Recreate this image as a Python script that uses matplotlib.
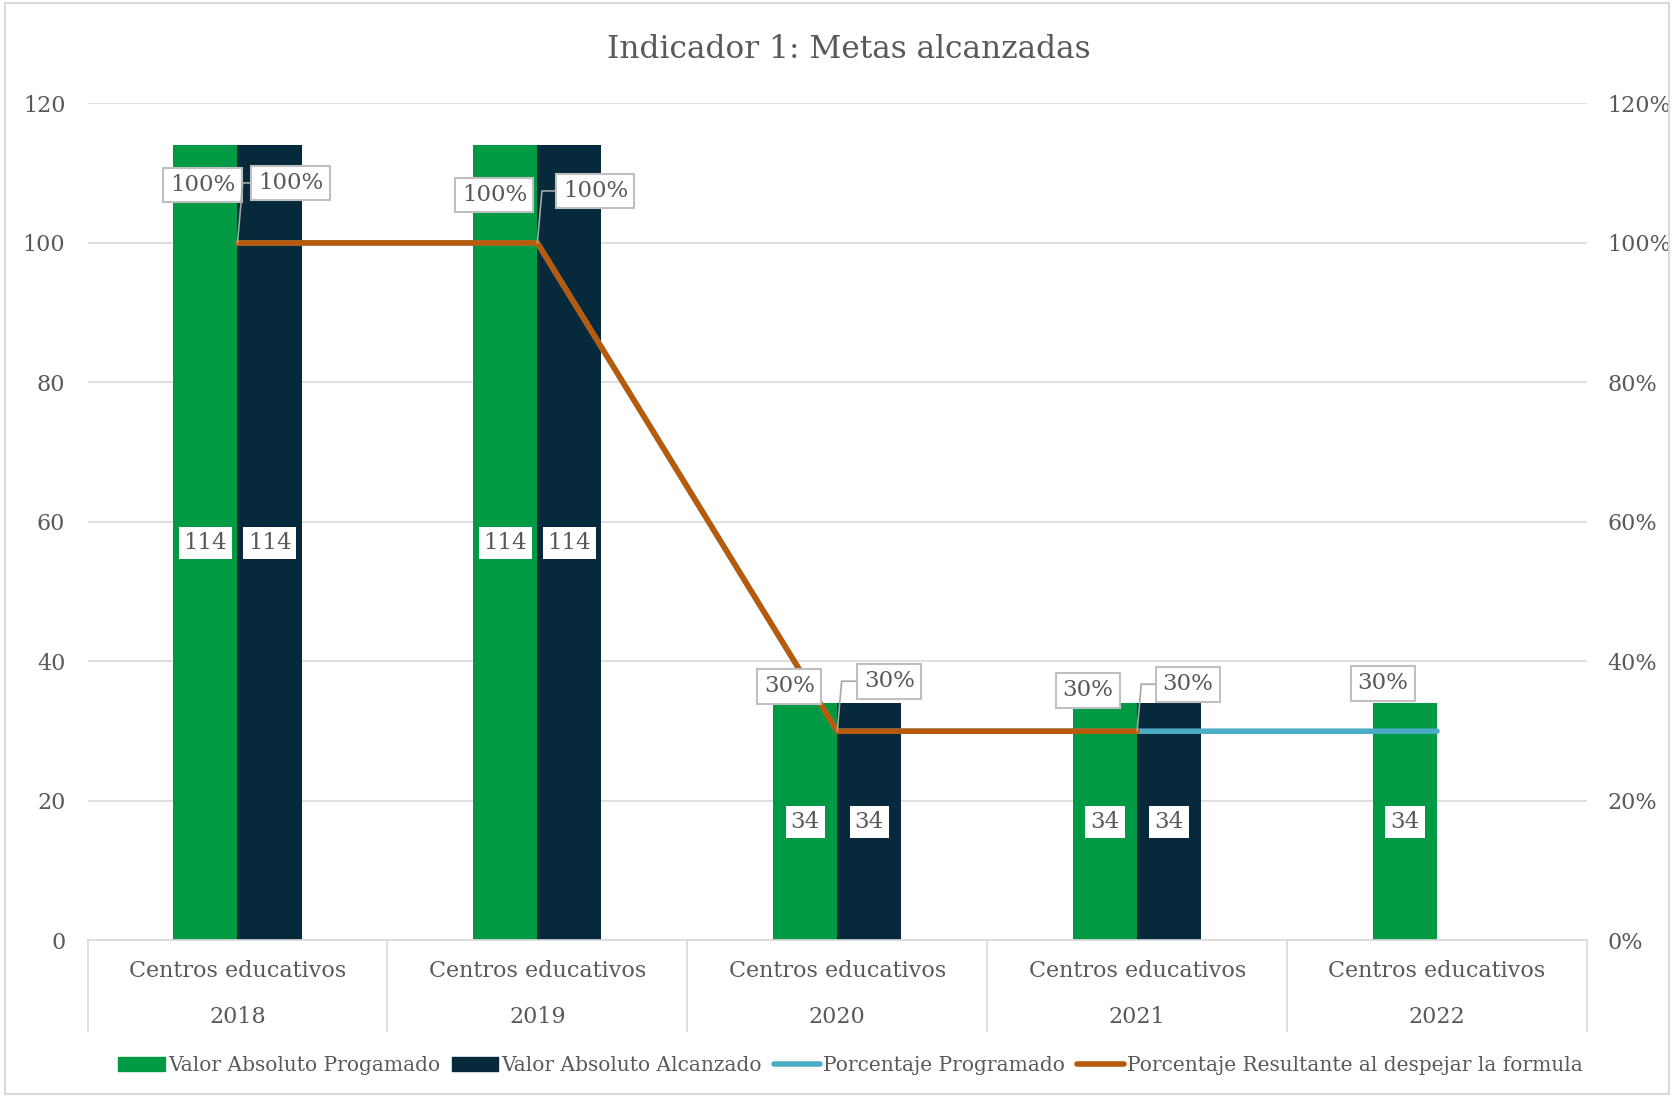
import matplotlib
matplotlib.use("Agg")
import matplotlib.pyplot as plt
import numpy as np
from matplotlib.patches import Rectangle
from matplotlib.lines import Line2D
from matplotlib.patches import Patch

# ---- data ----
categories = ["Centros educativos", "Centros educativos", "Centros educativos",
              "Centros educativos", "Centros educativos"]
years = ["2018", "2019", "2020", "2021", "2022"]
valor_programado = [114, 114, 34, 34, 34]
valor_alcanzado = [114, 114, 34, 34, np.nan]
pct_programado = [1.00, 1.00, 0.30, 0.30, 0.30]
pct_resultante = [1.00, 1.00, 0.30, 0.30, np.nan]

# label offsets in pixels (style only)
off_prog = [(-35, 58), (-43, 48), (-48, 45), (-49, 41), (-54, 48)]
off_res = [(53, 60), (58, 52), (52, 50), (51, 47), None]

C_GREEN = "#009944"
C_NAVY = "#06293C"
C_BLUE = "#4BACC6"
C_ORANGE = "#B85A0A"
C_TEXT = "#595959"
C_GRID = "#D9D9D9"
FONT = "DejaVu Serif"

plt.rcParams["font.family"] = FONT
fig = plt.figure(figsize=(16.74, 10.97), dpi=100)
ax = fig.add_axes([0.0523, 0.1427, 0.8957, 0.763])
ax2 = ax.twinx()

x = np.arange(len(years))
w = 0.2135
ax.bar(x - w / 2, valor_programado, width=w, color=C_GREEN, zorder=2)
ax.bar(x + w / 2, valor_alcanzado, width=w, color=C_NAVY, zorder=2)

ax.set_xlim(-0.5, len(years) - 0.5)
ax.set_ylim(0, 120)
ax.set_yticks(np.arange(0, 121, 20))
ax.grid(axis="y", color=C_GRID, lw=1.2, zorder=0)
ax.set_axisbelow(True)
for s in ["top", "left", "right"]:
    ax.spines[s].set_visible(False)
    ax2.spines[s].set_visible(False)
ax.spines["bottom"].set_color(C_GRID)
ax.spines["bottom"].set_linewidth(1.2)
ax2.spines["bottom"].set_visible(False)
ax.tick_params(axis="y", length=0, labelsize=16, labelcolor=C_TEXT, pad=16)
ax.set_xticks([])

lbl_fs = 16.5
# bar value labels
for xi, v in zip(x, valor_programado):
    if not np.isnan(v):
        ax.text(xi - w / 2, v / 2, f"{v:.0f}", ha="center", va="center", fontsize=lbl_fs,
                color=C_TEXT, zorder=5,
                bbox=dict(boxstyle="square,pad=0.22", fc="white", ec="none"))
for xi, v in zip(x, valor_alcanzado):
    if not np.isnan(v):
        ax.text(xi + w / 2, v / 2, f"{v:.0f}", ha="center", va="center", fontsize=lbl_fs,
                color=C_TEXT, zorder=5,
                bbox=dict(boxstyle="square,pad=0.22", fc="white", ec="none"))

# lines
ax2.plot(x, pct_programado, color=C_BLUE, lw=4, solid_capstyle="round", zorder=3)
ax2.plot(x, pct_resultante, color=C_ORANGE, lw=4, solid_capstyle="round", zorder=4)
ax2.set_ylim(0, 1.2)
ax2.set_yticks(np.arange(0, 1.21, 0.2))
ax2.set_yticklabels([f"{int(round(t*100))}%" for t in np.arange(0, 1.21, 0.2)])
ax2.tick_params(axis="y", length=0, labelsize=16, labelcolor=C_TEXT, pad=15)

box = dict(boxstyle="square,pad=0.28", fc="white", ec="#BFBFBF", lw=1.5)
for xi, v, off in zip(x, pct_programado, off_prog):
    if not np.isnan(v):
        ax2.annotate(f"{v*100:.0f}%", (xi, v), xytext=off, textcoords="offset pixels",
                     ha="center", va="center", fontsize=lbl_fs, color=C_TEXT, bbox=box, zorder=6)
for xi, v, off in zip(x, pct_resultante, off_res):
    if off is not None and not np.isnan(v):
        ax2.annotate(f"{v*100:.0f}%", (xi, v), xytext=off, textcoords="offset pixels",
                     ha="center", va="center", fontsize=lbl_fs, color=C_TEXT, bbox=box, zorder=6,
                     arrowprops=dict(arrowstyle="-", color="#A6A6A6", lw=1.2,
                                     shrinkA=0, shrinkB=0,
                                     connectionstyle="angle,angleA=180,angleB=85,rad=0"))

# category axis (two-level labels and separators)
trans = ax.get_xaxis_transform()
for b in np.arange(-0.5, len(years), 1.0):
    ax.plot([b, b], [0, -0.108], transform=trans, color=C_GRID, lw=1.2, clip_on=False)
for xi, c, yr in zip(x, categories, years):
    ax.text(xi, -0.037, c, transform=trans, ha="center", va="center", fontsize=16, color=C_TEXT)
    ax.text(xi, -0.091, yr, transform=trans, ha="center", va="center", fontsize=16, color=C_TEXT)

fig.text(0.507, 0.955, "Indicador 1: Metas alcanzadas", ha="center", va="center",
         fontsize=22.5, color=C_TEXT)

handles = [Patch(color=C_GREEN), Patch(color=C_NAVY),
           Line2D([], [], color=C_BLUE, lw=4, solid_capstyle="round"),
           Line2D([], [], color=C_ORANGE, lw=4, solid_capstyle="round")]
labels = ["Valor Absoluto Progamado", "Valor Absoluto Alcanzado",
          "Porcentaje Programado", "Porcentaje Resultante al despejar la formula"]
leg = fig.legend(handles, labels, loc="center", bbox_to_anchor=(0.508, 0.029), ncol=4,
                 frameon=False, fontsize=14.5, handlelength=2.3, handletextpad=0.15,
                 columnspacing=0.6, labelcolor=C_TEXT)

fig.patches.append(Rectangle((0.003, 0.003), 0.994, 0.994, transform=fig.transFigure,
                             fill=False, ec="#D9D9D9", lw=1.5))

fig.savefig("out.png", dpi=100, facecolor="white")
